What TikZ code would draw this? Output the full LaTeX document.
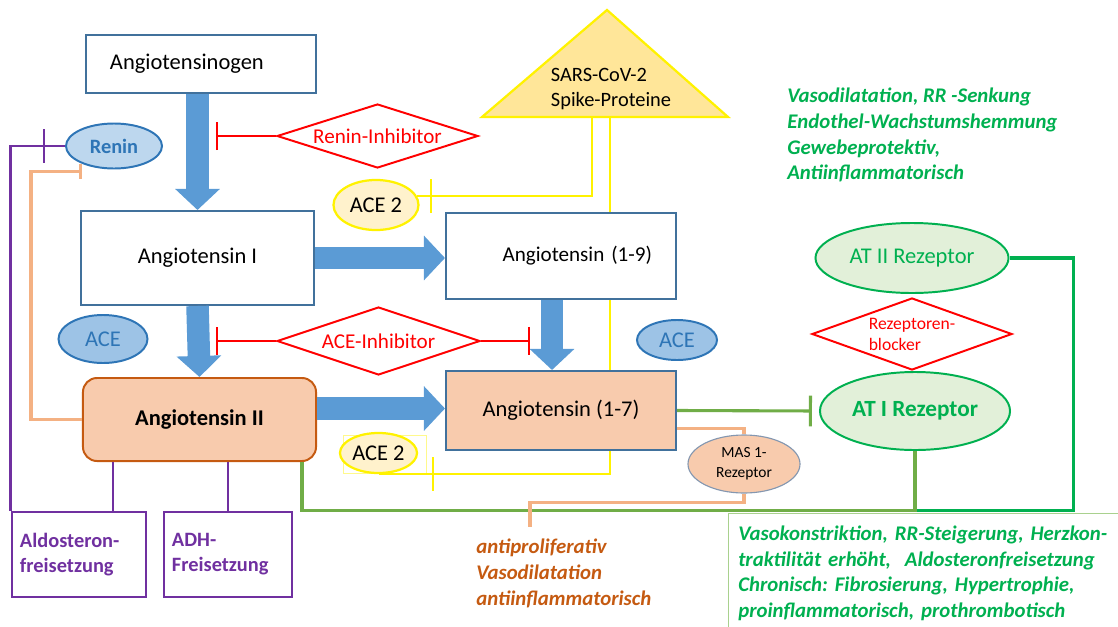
\documentclass[tikz,border=0pt]{standalone}
\usepackage{fontspec}
\setmainfont{Carlito}
\usepackage{xcolor}
\usepackage{tikz}
\usetikzlibrary{calc, shapes.geometric, arrows.meta, decorations.markings}

\definecolor{boxblue}{HTML}{41719C}
\definecolor{arrowblue}{HTML}{5B9BD5}
\definecolor{enzblue}{HTML}{2E75B6}
\definecolor{enzfill}{HTML}{9DC3E6}
\definecolor{reninfill}{HTML}{BDD7EE}
\definecolor{salmon}{HTML}{F8CBAD}
\definecolor{rust}{HTML}{C55A11}
\definecolor{lilac}{HTML}{7030A0}
\definecolor{peach}{HTML}{F4B183}
\definecolor{leafgreen}{HTML}{70AD47}
\definecolor{rezgreen}{HTML}{00B050}
\definecolor{rezfill}{HTML}{E2F0D9}
\definecolor{lightleaf}{HTML}{A9D18E}
\definecolor{spike}{HTML}{FFE699}
\definecolor{acefill}{HTML}{FFF2CC}
\definecolor{masedge}{HTML}{8497B0}

\tikzset{
  pathbox/.style={draw=boxblue, line width=1.4pt, fill=white, inner sep=0pt, font=\fontsize{16}{19}\selectfont},
  enzyme/.style={ellipse, draw=enzblue, line width=1.4pt, fill=enzfill, inner sep=0pt, text=enzblue, font=\fontsize{16}{19}\selectfont},
  acetwo/.style={ellipse, draw=yellow, line width=1.6pt, fill=acefill, inner sep=0pt, font=\fontsize{16}{19}\selectfont},
  inhibitor/.style={diamond, aspect=3, draw=red, line width=1.4pt, fill=white, inner sep=0pt, text=red, font=\fontsize{15}{18}\selectfont},
  receptor/.style={ellipse, draw=rezgreen, line width=1.4pt, fill=rezfill, inner sep=0pt, text=rezgreen, font=\fontsize{16}{19}\selectfont},
  releasebox/.style={draw=lilac, line width=1.8pt, inner xsep=0.2cm, inner ysep=0pt, text=lilac, align=left, font=\bfseries\fontsize{14.5}{17.7}\selectfont},
  effects/.style={align=left, inner sep=0pt, font=\frenchspacing\bfseries\itshape\fontsize{14.8}{18.2}\selectfont},
  fatarrow/.style={arrowblue, line width=16pt, -{Triangle[width=31pt,length=15pt]}},
  inhibit/.style={line width=1.5pt, -{Bar[width=20pt]}},
  spikeline/.style={draw=yellow, line width=1.7pt},
  lilacline/.style={draw=lilac, line width=2pt},
  leafline/.style={draw=leafgreen, line width=2.2pt},
  rezline/.style={draw=rezgreen, line width=2.2pt},
  peachline/.style={draw=peach, line width=2.2pt},
  blockat/.style 2 args={postaction={decorate}, decoration={markings, mark=at position #1 with {\draw [#2, line width=1.6pt] (0,-12pt) -- (0,12pt);}}},
}

\begin{document}
\begin{tikzpicture}[x=0.025cm, y=-0.025cm]
\useasboundingbox (0,0) rectangle (1118,626);

\filldraw [fill=spike, draw=yellow, line width=1.6pt] (607,10) -- (482,117) -- (728,117) -- cycle;
\node [align=left, font=\fontsize{14.5}{18.4}\selectfont] (sars) at (611,89) {SARS-CoV-2\\Spike-Proteine};
\coordinate (sarsl) at (592,117);
\coordinate (sarsr) at (610,117);

\node [pathbox, minimum width=5.725cm, minimum height=1.45cm, text width=4.55cm, align=left] (gen) at (201,64) {Angiotensinogen};
\node [pathbox, minimum width=5.825cm, minimum height=2.35cm] (ang1) at (197.5,258) {Angiotensin I};
\node [pathbox, minimum width=5.75cm, minimum height=2.15cm, text width=4.55cm, align=right, font=\fontsize{15}{18}\selectfont] (a19) at (561,256) {Angiotensin (1-9)};
\node [pathbox, fill=salmon, draw=rust, rounded corners=10pt, minimum width=5.825cm, minimum height=2.075cm, font=\bfseries\fontsize{16}{19}\selectfont] (ang2) at (199.5,419.5) {Angiotensin II};
\node [pathbox, fill=salmon, minimum width=5.75cm, minimum height=1.975cm] (a17) at (561,410.5) {Angiotensin (1-7)};

\node [enzyme, fill=reninfill, minimum width=2.4cm, minimum height=1.125cm, font=\bfseries\fontsize{14.5}{17}\selectfont] (renin) at (114,146) {Renin};
\node [enzyme, minimum width=2.225cm, minimum height=1.2cm] (aceleft) at (103,339) {ACE};
\node [enzyme, minimum width=2.0cm, minimum height=1.0cm] (aceright) at (677,340) {ACE};

\node [acetwo, minimum width=2.125cm, minimum height=1.25cm] (ace2top) at (376,205) {ACE 2};
\node [draw=yellow!45, line width=0.5pt, minimum width=2.075cm, minimum height=0.95cm] (ace2frame) at (384.5,454) {};
\node [acetwo, minimum width=1.925cm, minimum height=1.0cm] (ace2bot) at (378.5,453) {ACE 2};

\node [inhibitor, minimum width=5.025cm, minimum height=1.6cm] (reninhib) at (377.5,136) {Renin-Inhibitor};
\node [inhibitor, minimum width=5.075cm, minimum height=1.7cm] (aceinhib) at (378.5,341) {ACE-Inhibitor};
\node [inhibitor, aspect=2.8, minimum width=5.0cm, minimum height=1.8cm, align=left, font=\fontsize{12.5}{15}\selectfont] (blocker) at (912,334) {Rezeptoren-\\blocker};

\node [receptor, minimum width=4.825cm, minimum height=1.75cm] (at2) at (912,258) {AT II Rezeptor};
\node [receptor, minimum width=4.75cm, minimum height=1.95cm, font=\bfseries\fontsize{16.5}{19}\selectfont] (at1) at (915,411) {AT I Rezeptor};
\node [ellipse, draw=masedge, fill=salmon, line width=0.8pt, inner sep=0pt, minimum width=2.8cm, minimum height=1.45cm, align=center, font=\fontsize{11}{14}\selectfont] (mas) at (744,464) {MAS 1-\\Rezeptor};

\node [releasebox, text width=2.95cm, minimum height=2.125cm] (aldo) at (79,554.5) {Aldosteron-\\freisetzung};
\node [releasebox, text width=2.8cm, minimum height=2.125cm] (adh) at (228,554.5) {ADH-\\Freisetzung};

\node [effects, text=rezgreen, anchor=north west] (at2fx) at (787,88) {Vasodilatation, RR -Senkung\\Endothel-Wachstumshemmung\\Gewebeprotektiv,\\Antiinflammatorisch};
\node [effects, text=rust, anchor=north west] (anti) at (476,539) {antiproliferativ\\Vasodilatation\\antiinflammatorisch};
\node [effects, text=rezgreen, draw=lightleaf, line width=0.6pt, anchor=north west, inner xsep=7pt, inner ysep=9pt, text width=9.6cm] (at1fx) at (728,513) {Vasokonstriktion, RR-Steigerung, Herzkon-\\traktilität erhöht, \ Aldosteronfreisetzung\\Chronisch: Fibrosierung, Hypertrophie,\\proinflammatorisch, prothrombotisch};

\draw [fatarrow] (ang1.north |- gen.south) -- (ang1.north);
\draw [fatarrow] (ang1.south) -- (ang2.north);
\draw [fatarrow] (ang1.east) -- (ang1.east -| a19.west);
\draw [fatarrow] ($(a19.south)+(-9,0)$) -- ($(a17.north)+(-9,0)$);
\draw [fatarrow] ($(ang2.east)+(0,-11)$) -- ($(ang2.east -| a17.west)+(0,-11)$);

\coordinate (reninstop) at (216,136);
\coordinate (aceleftstop) at (216,341);
\coordinate (acerightstop) at (530,341);
\draw [inhibit, red] (reninhib.west) -- (reninstop);
\draw [inhibit, red] (aceinhib.west) -- (aceleftstop);
\draw [inhibit, red] (aceinhib.east) -- (acerightstop);

\draw [spikeline, blockat={-10pt}{yellow}] (sarsl) |- (ace2top.12);
\draw [spikeline] (sarsr) -- (sarsr |- a19.north);
\draw [spikeline] (sarsr |- a19.south) -- (sarsr |- a17.north);
\draw [spikeline, blockat={-39pt}{yellow}] (sarsr |- a17.south) |- (ace2bot.south);

\coordinate (aldofoot) at ($(aldo.north)+(34,0)$);
\draw [lilacline, blockat={15pt}{lilac}] (renin.west) -| (aldo.north west);
\draw [lilacline] (aldofoot |- ang2.south) -- (aldofoot);
\draw [lilacline] (adh.north |- ang2.south) -- (adh.north);

\coordinate (join) at (at1.south |- aldo.north);
\draw [rezline] (at2.east) -- ++(64,0) |- (join);
\draw [leafline] ($(ang2.south east)+(-15,0)$) |- (join) -- (at1.south);
\draw [leafline, inhibit, line width=2.2pt, shorten >=5pt, -{Bar[width=22pt]}] (a17.east) -- (at1.west);

\coordinate (reninfoot) at ($(renin.south)+(-32,2)$);
\coordinate (antitop) at (530,527);
\draw [peachline, -{Bar[width=10pt]}] (ang2.west) -- ++(-51,0) |- (reninfoot);
\draw [peachline] ($(a17.east)+(0,18)$) -| (mas.north);
\draw [peachline] (mas.south) -- ++(0,9) -| (antitop);
\end{tikzpicture}
\end{document}
